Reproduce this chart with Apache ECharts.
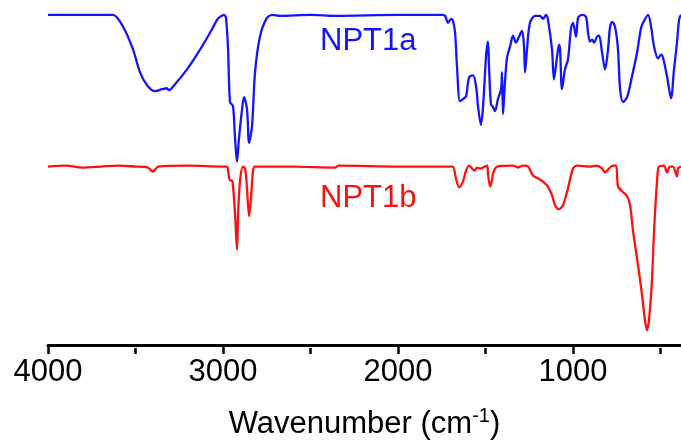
<!DOCTYPE html>
<html>
<head>
<meta charset="utf-8">
<script src="https://cdn.jsdelivr.net/npm/echarts@6/dist/echarts.min.js"></script>
<style>
html,body{margin:0;padding:0;background:#fff;}
#chart{width:681px;height:445px;}
</style>
</head>
<body>
<div id="chart"></div>
<script>
// Offset absorbance-like values (larger = deeper band)
const xTicks = [4000, 3000, 2000, 1000];
const xMinorTicks = [3500, 2500, 1500, 500];
const seriesNames = ['NPT1a', 'NPT1b'];

const wnA = [4000,3900,3800,3700,3629,3571,3514,3474,3434,3389,3349,3320,3309,3274,3206,3131,3074,3034,3017,2994,2983,2971,2960,2943,2931,2920,2909,2891,2880,2863,2851,2834,2817,2789,2749,2714,2674,2500,2360,2000,1743,1731,1714,1697,1686,1674,1663,1646,1629,1611,1594,1571,1554,1543,1526,1514,1497,1486,1480,1469,1457,1446,1429,1411,1406,1400,1389,1377,1360,1343,1326,1309,1291,1280,1274,1263,1246,1217,1189,1171,1154,1143,1120,1109,1091,1080,1074,1063,1046,1029,1011,1000,983,971,949,926,914,903,891,880,863,851,834,817,800,789,777,760,743,731,714,691,663,634,611,594,571,554,537,514,497,486,463,440,423,406,394,383];
const valA = [15,15,15,15,15,27,50,73,86,92,90,89,91,85,70,50,33,20,17,15,18,50,103,107,140,163,140,110,98,110,144,127,73,37,18,15,16,15,16,15,15,16,23,19,21,33,67,102,100,97,78,76,87,107,126,107,57,42,67,105,108,112,100,90,73,115,83,58,47,36,43,37,31,47,73,50,23,16,16,19,15,20,50,80,57,45,50,90,70,60,28,23,37,18,15,17,33,42,40,43,37,36,53,70,50,28,22,27,50,90,103,98,77,53,28,21,15,27,47,59,55,58,77,99,70,43,20,15];

const wnB = [4000,3900,3800,3700,3600,3500,3430,3400,3370,3200,3000,2977,2971,2960,2949,2943,2931,2920,2914,2903,2886,2874,2863,2851,2840,2829,2817,2600,2360,2340,2000,1700,1686,1669,1651,1629,1611,1594,1571,1560,1549,1531,1514,1491,1486,1474,1463,1457,1434,1343,1314,1286,1257,1229,1189,1149,1120,1103,1080,1057,1029,1000,977,903,863,834,817,800,771,754,743,720,691,674,657,629,606,589,577,566,549,537,520,509,480,463,446,429,406,400,383];
const valB = [168,167,169,168,167,168,169,173,168,167,168,168,172,182,182,187,217,252,217,183,168,170,190,218,200,173,168,168,169,167,168,168,168,180,189,183,172,167,171,172,169,170,169,167,175,188,182,175,168,167,169,167,168,177,181,187,197,207,211,207,190,170,167,168,167,170,174,171,167,167,188,193,198,207,233,267,297,323,333,323,283,233,183,168,167,174,168,168,178,170,168];

const zip = (xs, ys) => xs.map((x, i) => [x, ys[i]]);

const chart = echarts.init(document.getElementById('chart'), null, {renderer: 'canvas'});
const FONT = 'Liberation Sans, Arial, sans-serif';
const BLUE = '#1414ff', RED = '#ff1010';
const gridBox = {left: 48, right: 0, top: 0, bottom: 97, containLabel: false};
chart.setOption({
  animation: false,
  backgroundColor: '#ffffff',
  grid: [gridBox, Object.assign({}, gridBox)],
  xAxis: [{
    gridIndex: 0,
    type: 'value',
    inverse: true,
    min: 383, max: 4000,
    name: '{a|Wavenumber (cm}{s|-1}{a|)}',
    nameLocation: 'middle',
    nameGap: 61,
    nameTextStyle: {
      rich: {
        a: {fontFamily: FONT, fontSize: 31, color: '#000', lineHeight: 34, verticalAlign: 'bottom'},
        s: {fontFamily: FONT, fontSize: 20, color: '#000', lineHeight: 34, verticalAlign: 'top'}
      }
    },
    axisLine: {show: true, onZero: false, lineStyle: {color: '#000', width: 3}},
    axisTick: {show: true, length: 9, lineStyle: {color: '#000', width: 2.5},
      customValues: xTicks},
    axisLabel: {
      fontFamily: FONT, fontSize: 31, color: '#000', margin: 12,
      customValues: xTicks,
      formatter: v => String(v)
    },
    splitLine: {show: false}
  }, {
    gridIndex: 1,
    type: 'value',
    inverse: true,
    min: 383, max: 4000,
    position: 'bottom',
    axisLine: {show: false, onZero: false},
    axisTick: {show: true, length: 6, lineStyle: {color: '#000', width: 2.5},
      customValues: xMinorTicks},
    axisLabel: {show: false},
    splitLine: {show: false}
  }],
  yAxis: [
    {gridIndex: 0, type: 'value', inverse: true, min: 0, max: 348, show: false},
    {gridIndex: 1, type: 'value', inverse: true, min: 0, max: 348, show: false}
  ],
  graphic: [
    {type: 'text', left: 320, top: 26, style: {text: seriesNames[0], fill: BLUE, font: '31px ' + FONT}},
    {type: 'text', left: 320, top: 183, style: {text: seriesNames[1], fill: RED, font: '31px ' + FONT}}
  ],
  series: [
    {name: seriesNames[0], type: 'line', xAxisIndex: 0, yAxisIndex: 0, data: zip(wnA, valA), showSymbol: false, smooth: 0.3,
     lineStyle: {color: BLUE, width: 2.3}, z: 3},
    {name: seriesNames[1], type: 'line', xAxisIndex: 0, yAxisIndex: 0, data: zip(wnB, valB), showSymbol: false, smooth: 0.3,
     lineStyle: {color: RED, width: 2.3}, z: 2}
  ]
});
</script>
</body>
</html>
